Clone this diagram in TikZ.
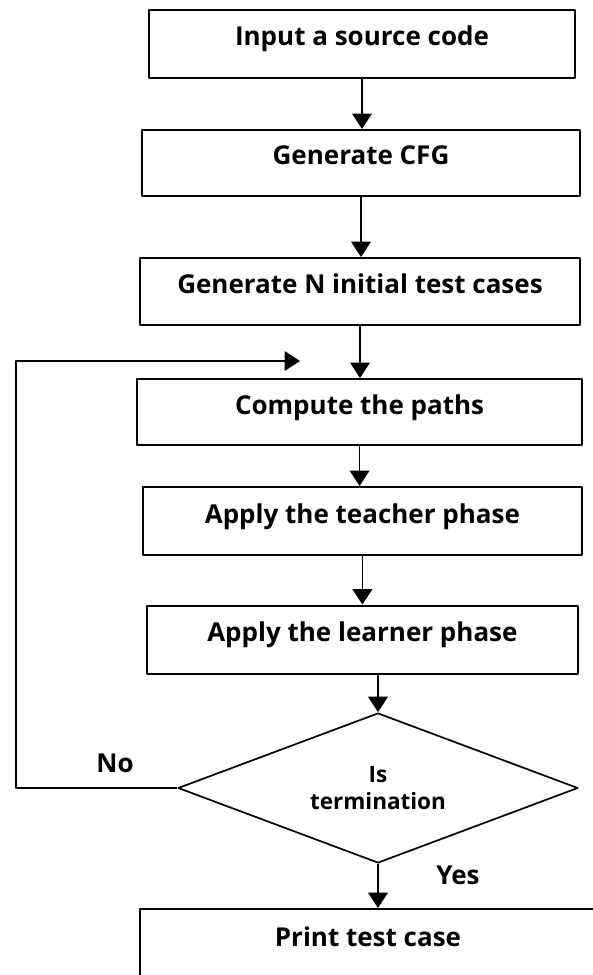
\documentclass[tikz,border=0pt]{standalone}
\usepackage{fontspec}
\setmainfont{Open Sans}
\usetikzlibrary{arrows.meta,shapes.geometric}
\begin{document}
\begin{tikzpicture}[>={Triangle[length=11pt,width=14pt]}, font=\bfseries\fontsize{18.5}{22}\selectfont, line join=round,
 box/.style={draw, line width=1.4pt, inner sep=0pt, text height=.65cm, text depth=.55cm},
 arr/.style={->, line width=1.1pt}]
\useasboundingbox (0,0) rectangle (14.8,-24.375);
% cac khoi
\node[box, minimum width=10.65cm, minimum height=1.7cm] (input) at (9.05,-1.1) {Input a source code};
\node[box, minimum width=10.95cm, minimum height=1.65cm] (cfg) at (9.025,-4.075) {Generate CFG};
\node[box, minimum width=11cm, minimum height=1.675cm] (init) at (9,-7.29) {Generate N initial test cases};
\node[box, minimum width=11.125cm, minimum height=1.65cm] (paths) at (8.99,-10.3) {Compute the paths};
\node[box, minimum width=10.975cm, minimum height=1.7cm] (teacher) at (9.06,-13.025) {Apply the teacher phase};
\node[box, minimum width=10.775cm, minimum height=1.7cm] (learner) at (9.06,-15.99) {Apply the learner phase};
\node[diamond, draw, line width=1.2pt, aspect=2.667, minimum width=10cm, minimum height=3.75cm, inner sep=0pt, align=center, font=\bfseries\fontsize{16}{19.5}\selectfont] (term) at (9.45,-19.7) {Is\\termination};
\node[box, minimum width=11.4cm, minimum height=1.75cm] (print) at (9.2,-23.6) {Print test case};
\coordinate (corner) at (0.4,-9.025);
\coordinate (back) at (7.5,-9.025);
% cac mui ten
\draw[arr] (input.south) -- (input.south |- cfg.north);
\draw[arr] (cfg.south) -- (cfg.south |- init.north);
\draw[arr] (init.south) -- (init.south |- paths.north);
\draw[arr] (paths.south) -- (paths.south |- teacher.north);
\draw[arr] (teacher.south) -- (teacher.south |- learner.north);
\draw[arr] (term.north |- learner.south) -- (term.north);
\draw[arr] (term.south) -- (term.south |- print.north);
\draw[arr] (term.west) -- (term.west -| corner) -- (corner) -- (back);
\node (no) at (2.875,-19.075) {No};
\node (yes) at (11.45,-21.875) {Yes};
\end{tikzpicture}
\end{document}
